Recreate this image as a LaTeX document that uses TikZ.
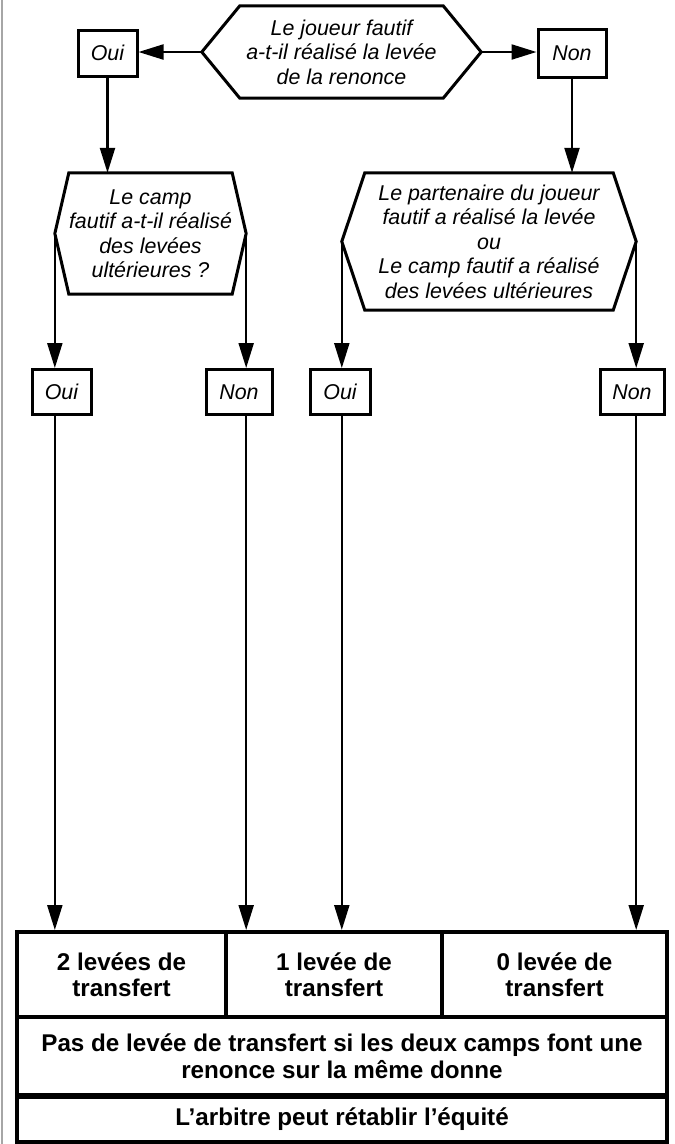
\documentclass[tikz,border=0pt]{standalone}
\usepackage{fontspec}
\setmainfont{Liberation Sans}
\usetikzlibrary{arrows.meta}
\begin{document}
\begin{tikzpicture}[x=1pt,y=-1pt,
  conn/.style={line width=2.2pt},
  arr/.style={conn,-{Triangle[length=25pt,width=15pt]}},
  qtext/.style={font=\fontsize{21.4}{24.5}\selectfont\itshape, align=center, inner sep=0pt},
  hexline/.style={line width=3pt, line join=miter},
  ansbox/.style={draw, line width=3pt, font=\fontsize{21.4}{24}\selectfont\itshape, inner sep=0pt, minimum height=45pt},
  cell/.style={draw, line width=4pt, font=\fontsize{24.2}{26.5}\selectfont\bfseries, align=center, inner sep=0pt},
]
\useasboundingbox (0,0) rectangle (675,1144);
\draw[gray!70, line width=1.5pt] (2,0) -- (2,1144);

% question 1
\node[qtext, minimum width=203pt, minimum height=92pt] (h1) at (341.5,52) {Le joueur fautif\\a-t-il réalisé la levée\\de la renonce};
\coordinate (h1L) at ([xshift=-38pt]h1.west);
\coordinate (h1R) at ([xshift=38pt]h1.east);
\draw[hexline] (h1.north west) -- (h1.north east) -- (h1R) -- (h1.south east) -- (h1.south west) -- (h1L) -- cycle;

% question 2
\node[qtext, minimum width=155pt, minimum height=121pt] (h2) at (150.5,233.5) {Le camp\\fautif a-t-il réalisé\\des levées\\ultérieures ?};
\coordinate (h2L) at ([xshift=-14pt]h2.west);
\coordinate (h2R) at ([xshift=14pt]h2.east);
\draw[hexline] (h2.north west) -- (h2.north east) -- (h2R) -- (h2.south east) -- (h2.south west) -- (h2L) -- cycle;

% question 3
\node[qtext, minimum width=248pt, minimum height=137pt] (h3) at (489,241.5) {Le partenaire du joueur\\fautif a réalisé la levée\\ou\\Le camp fautif a réalisé\\des levées ultérieures};
\coordinate (h3L) at ([xshift=-23pt]h3.west);
\coordinate (h3R) at ([xshift=23pt]h3.east);
\draw[hexline] (h3.north west) -- (h3.north east) -- (h3R) -- (h3.south east) -- (h3.south west) -- (h3L) -- cycle;

% answers
\node[ansbox, minimum width=59pt, minimum height=46pt] (oui1) at (107.5,53) {Oui};
\node[ansbox, minimum width=68pt, minimum height=48pt] (non1) at (572,53) {Non};
\node[ansbox, minimum width=59pt] (oui2) at (61.5,392) {Oui};
\node[ansbox, minimum width=66pt] (non2) at (239,392) {Non};
\node[ansbox, minimum width=60pt] (oui3) at (340,392) {Oui};
\node[ansbox, minimum width=64pt] (non4) at (632,392) {Non};

% result table
\node[cell, minimum width=209pt, minimum height=85pt] (c1) at (121.5,974.5) {2 levées de\\transfert};
\node[cell, minimum width=216pt, minimum height=85pt] (c2) at (334,974.5) {1 levée de\\transfert};
\node[cell, minimum width=225pt, minimum height=85pt] (c3) at (554.5,974.5) {0 levée de\\transfert};
\node[cell, minimum width=650pt, minimum height=78pt] (r2) at (342,1056) {Pas de levée de transfert si les deux camps font une\\renonce sur la même donne};
\node[cell, minimum width=650pt, minimum height=45pt] (r3) at (342,1119.5) {L’arbitre peut rétablir l’équité};

% connectors
\draw[arr] (h1L) -- (h1L -| oui1.east);
\draw[arr] (h1R) -- (h1R -| non1.west);
\draw[arr] (oui1.south) -- (oui1.south |- h2.north);
\draw[arr] (non1.south) -- (non1.south |- h3.north);
\draw[arr] (h2L) -- (h2L |- oui2.north);
\draw[arr] (h2R) -- (h2R |- non2.north);
\draw[arr] (h3L) -- (h3L |- oui3.north);
\draw[arr] (h3R) -- (h3R |- non4.north);
\draw[arr] (h2L |- oui2.south) -- (h2L |- c1.north);
\draw[arr] (h2R |- non2.south) -- (h2R |- c2.north);
\draw[arr] (h3L |- oui3.south) -- (h3L |- c2.north);
\draw[arr] (h3R |- non4.south) -- (h3R |- c3.north);
\end{tikzpicture}
\end{document}
